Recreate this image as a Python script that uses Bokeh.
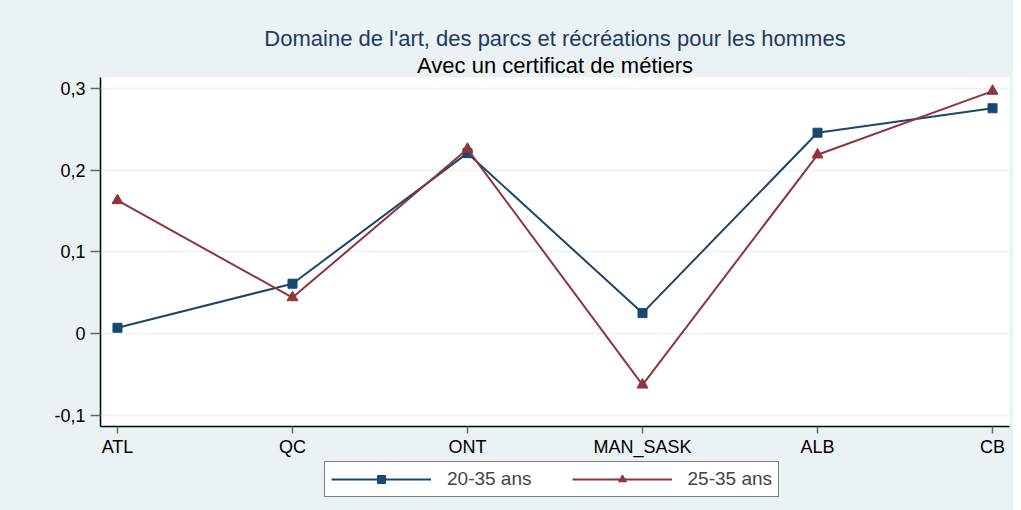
from bokeh.plotting import figure
from bokeh.layouts import column
from bokeh.models import (Range1d, FixedTicker, CustomJSTickFormatter, Legend,
                          LegendItem, Title)
from bokeh.embed import file_html
from bokeh.resources import INLINE

categories = ["ATL", "QC", "ONT", "MAN_SASK", "ALB", "CB"]
serie_20_35 = [0.007, 0.061, 0.221, 0.025, 0.246, 0.276]
serie_25_35 = [0.163, 0.044, 0.226, -0.063, 0.219, 0.297]
y_ticks = [-0.1, 0.0, 0.1, 0.2, 0.3]
title_1 = "Domaine de l'art, des parcs et récréations pour les hommes"
title_2 = "Avec un certificat de métiers"
labels = ["20-35 ans", "25-35 ans"]

BG = "#eaf2f3"
BLUE = "#1a476f"
RED = "#90353b"
FONT = "Liberation Sans"

xs = list(range(len(categories)))

p = figure(frame_width=909, frame_height=349, output_backend="svg",
           toolbar_location=None,
           x_range=Range1d(-0.097, 5.097), y_range=Range1d(-0.114, 0.3137),
           min_border_left=100, min_border_right=4, min_border_top=77,
           min_border_bottom=32)
p.background_fill_color = "white"
p.border_fill_color = BG
p.outline_line_color = None

p.add_layout(Title(text=title_2, align="center", text_font=FONT,
                   text_font_size="22px", text_font_style="normal",
                   text_color="black", standoff=0, text_line_height=0.85),
             "above")
p.add_layout(Title(text=title_1, align="center", text_font=FONT,
                   text_font_size="22px", text_font_style="normal",
                   text_color="#1e3a64", standoff=0, text_line_height=0.85),
             "above")

# axes
p.xaxis.ticker = FixedTicker(ticks=xs)
p.xaxis.major_label_overrides = {i: c for i, c in enumerate(categories)}
p.yaxis.ticker = FixedTicker(ticks=y_ticks)
p.yaxis.formatter = CustomJSTickFormatter(code="""
    if (Math.abs(tick) < 1e-9) return '0';
    return tick.toFixed(1).replace('.', ',');
""")
for ax in (p.xaxis, p.yaxis):
    ax.axis_line_color = "black"
    ax.axis_line_width = 1.5
    ax.major_tick_line_color = "#666666"
    ax.major_tick_line_width = 1.5
    ax.minor_tick_line_color = None
    ax.major_tick_in = 0
    ax.major_label_text_font = FONT
    ax.major_label_text_font_size = "18px"
    ax.major_label_text_color = "black"
p.yaxis.major_tick_out = 10
p.yaxis.major_label_standoff = 5
p.xaxis.major_tick_out = 7
p.xaxis.major_label_standoff = 3
p.yaxis.major_label_orientation = "horizontal"

p.xgrid.grid_line_color = None
p.ygrid.grid_line_color = BG
p.ygrid.grid_line_width = 1.5

p.line(xs, serie_20_35, line_color=BLUE, line_width=2)
p.scatter(xs, serie_20_35, marker="square", size=9, fill_color=BLUE,
          line_color=BLUE)
p.line(xs, serie_25_35, line_color=RED, line_width=2)
p.scatter(xs, serie_25_35, marker="triangle", size=11, fill_color=RED,
          line_color=RED)

# legend strip (its own figure; the series sit outside its visible range)
lf = figure(frame_width=909, frame_height=52, output_backend="svg",
            toolbar_location=None,
            x_range=Range1d(100, 101), y_range=Range1d(100, 101),
            x_axis_location=None, y_axis_location=None,
            min_border_left=100, min_border_right=4, min_border_top=0,
            min_border_bottom=0)
lf.background_fill_color = BG
lf.border_fill_color = BG
lf.outline_line_color = None
lf.grid.grid_line_color = None
l1 = lf.line(xs, serie_20_35, line_color=BLUE, line_width=2)
m1 = lf.scatter(xs, serie_20_35, marker="square", size=9, fill_color=BLUE,
                line_color=BLUE)
l2 = lf.line(xs, serie_25_35, line_color=RED, line_width=2)
m2 = lf.scatter(xs, serie_25_35, marker="triangle", size=11, fill_color=RED,
                line_color=RED)

legend = Legend(items=[LegendItem(label=labels[0], renderers=[l1, m1]),
                       LegendItem(label=labels[1], renderers=[l2, m2])],
                orientation="horizontal", location=(224, 14),
                glyph_width=100, glyph_height=20, label_standoff=16,
                spacing=40, padding=6, margin=0,
                label_text_font=FONT, label_text_font_size="19px",
                border_line_color="black", border_line_width=1,
                background_fill_color="white", background_fill_alpha=1)
lf.add_layout(legend)

layout = column(p, lf, spacing=0, styles={"background-color": BG})
open("out.html", "w").write(file_html(layout, INLINE))
